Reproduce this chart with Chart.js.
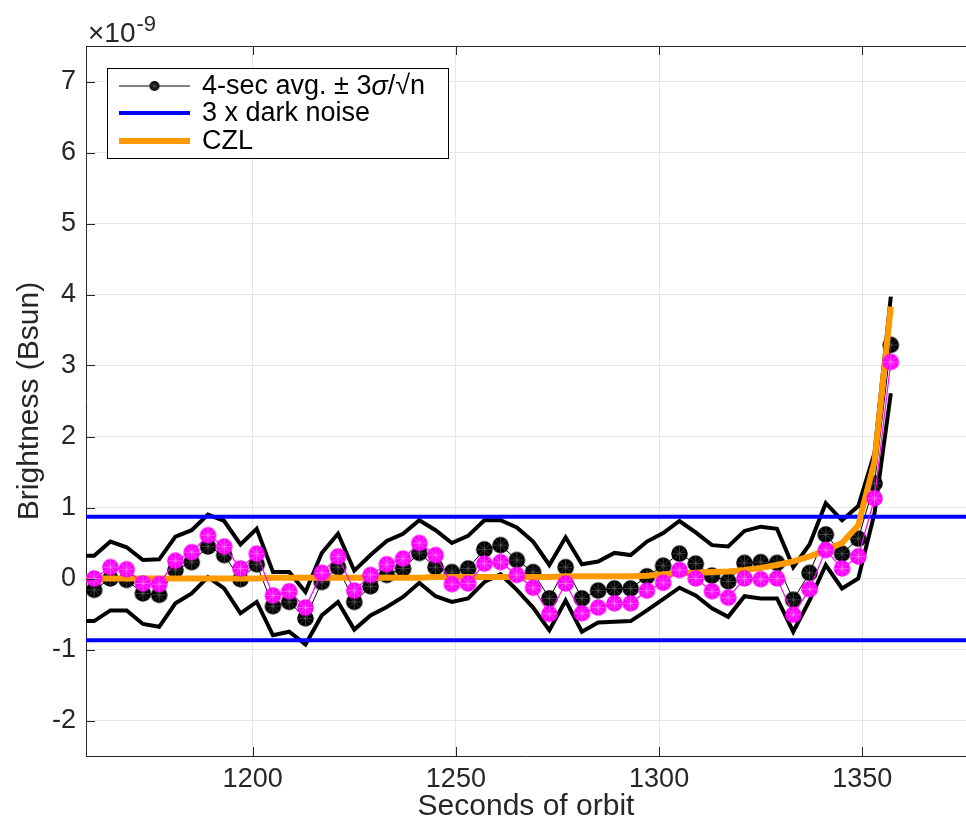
<!DOCTYPE html>
<html>
<head>
<meta charset="utf-8">
<title>Brightness vs seconds of orbit</title>
<script src="https://cdn.jsdelivr.net/npm/chart.js@4.4.1/dist/chart.umd.min.js"></script>
<style>
  html, body { margin: 0; padding: 0; background: #fff; }
  #wrap { width: 966px; height: 827px; }
</style>
</head>
<body>
<div id="wrap"><canvas id="brightness" width="966" height="827"></canvas></div>
<script>
// brightness values are in units of 1e-9 Bsun

// centre of each 4-sec bin (seconds of orbit)
const TIMES = [
  1161, 1165, 1169, 1173, 1177, 1181, 1185, 1189, 1193, 1197,
  1201, 1205, 1209, 1213, 1217, 1221, 1225, 1229, 1233, 1237,
  1241, 1245, 1249, 1253, 1257, 1261, 1265, 1269, 1273, 1277,
  1281, 1285, 1289, 1293, 1297, 1301, 1305, 1309, 1313, 1317,
  1321, 1325, 1329, 1333, 1337, 1341, 1345, 1349, 1353, 1357,
];

// 4-sec average
const AVG = [
  -0.16, 0.00, -0.02, -0.21, -0.23, 0.12, 0.23, 0.45, 0.33, -0.01,
  0.20, -0.39, -0.33, -0.56, -0.05, 0.16, -0.33, -0.11, 0.05, 0.14,
  0.36, 0.16, 0.09, 0.14, 0.41, 0.47, 0.26, 0.09, -0.28, 0.16,
  -0.28, -0.17, -0.14, -0.14, 0.03, 0.18, 0.35, 0.21, 0.04, -0.04,
  0.22, 0.23, 0.22, -0.30, 0.08, 0.62, 0.35, 0.56, 1.34, 3.29,
];

// avg + 3 sigma / sqrt(n)
const UPPER = [
  0.32, 0.52, 0.44, 0.26, 0.27, 0.59, 0.68, 0.90, 0.81, 0.48,
  0.70, 0.09, 0.09, -0.19, 0.36, 0.63, 0.11, 0.33, 0.53, 0.63,
  0.82, 0.68, 0.50, 0.60, 0.82, 0.82, 0.72, 0.52, 0.19, 0.58,
  0.20, 0.24, 0.36, 0.33, 0.52, 0.64, 0.81, 0.65, 0.47, 0.45,
  0.67, 0.73, 0.70, 0.16, 0.48, 1.06, 0.82, 1.02, 1.77, 3.97,
];

// avg - 3 sigma / sqrt(n)
const LOWER = [
  -0.60, -0.45, -0.45, -0.64, -0.68, -0.35, -0.21, 0.02, -0.14, -0.49,
  -0.33, -0.80, -0.75, -0.93, -0.52, -0.33, -0.72, -0.52, -0.40, -0.26,
  -0.06, -0.25, -0.33, -0.28, -0.05, 0.06, -0.16, -0.41, -0.73, -0.31,
  -0.75, -0.62, -0.61, -0.60, -0.45, -0.29, -0.13, -0.24, -0.42, -0.54,
  -0.25, -0.28, -0.28, -0.75, -0.31, 0.19, -0.14, 0.00, 0.92, 2.61,
];

// corrected brightness (magenta)
const CORRECTED = [
  0.00, 0.16, 0.13, -0.07, -0.08, 0.25, 0.37, 0.61, 0.45, 0.14,
  0.35, -0.24, -0.18, -0.41, 0.08, 0.31, -0.17, 0.05, 0.20, 0.28,
  0.50, 0.33, -0.08, -0.07, 0.21, 0.23, 0.05, -0.13, -0.50, -0.07,
  -0.49, -0.41, -0.35, -0.35, -0.17, -0.06, 0.12, 0.00, -0.18, -0.27,
  0.00, -0.01, 0.00, -0.51, -0.15, 0.40, 0.14, 0.31, 1.13, 3.05,
];

// CZL model
const CZL = [
  0.00, 0.00, 0.00, 0.00, 0.00, 0.00, 0.00, 0.00, 0.00, 0.00,
  0.00, 0.01, 0.01, 0.01, 0.01, 0.01, 0.01, 0.01, 0.01, 0.01,
  0.01, 0.02, 0.02, 0.02, 0.02, 0.02, 0.02, 0.02, 0.02, 0.03,
  0.03, 0.03, 0.03, 0.03, 0.04, 0.06, 0.07, 0.08, 0.09, 0.10,
  0.12, 0.15, 0.19, 0.24, 0.31, 0.40, 0.50, 0.75, 1.65, 3.83,
];

// +/- 3 x dark noise
const DARK_NOISE = [0.87, -0.87];

const X_TICKS = [1200, 1250, 1300, 1350];
const Y_TICKS = [-2, -1, 0, 1, 2, 3, 4, 5, 6, 7];
const X_MIN = 1159;
const X_MAX = 1375.5;
const Y_MIN = -2.5;
const Y_MAX = 7.5;

const TEXT = "#262626";
const GRID = "#e6e6e6";
const FONT = "'Liberation Sans', Arial, Helvetica, sans-serif";
const BLUE = "#0000ff";
const ORANGE = "#ff9900";
const MAGENTA = "#ff00ff";

function pts(ys) {
  return TIMES.map((t, i) => ({ x: t, y: ys[i] }));
}

// envelope and model curves begin at the left edge of the axes
function withLeadIn(ys) {
  return [{ x: X_MIN, y: ys[0] }].concat(pts(ys));
}

// filled circle overlaid with an asterisk, like an 'o' + '*' marker
function markerImage(fill, spoke, r) {
  const size = Math.ceil(r * 2 + 2);
  const c = document.createElement("canvas");
  c.width = size;
  c.height = size;
  const g = c.getContext("2d");
  const m = size / 2;
  g.fillStyle = fill;
  g.beginPath();
  g.arc(m, m, r, 0, Math.PI * 2);
  g.fill();
  g.strokeStyle = spoke;
  g.lineWidth = 0.7;
  for (let a = 0; a < 4; a++) {
    const th = (a * Math.PI) / 4;
    const dx = Math.cos(th) * r * 0.85;
    const dy = Math.sin(th) * r * 0.85;
    g.beginPath();
    g.moveTo(m - dx, m - dy);
    g.lineTo(m + dx, m + dy);
    g.stroke();
  }
  return c;
}

const blackDot = markerImage("#000000", "#5a5a5a", 8.3);
const pinkDot = markerImage(MAGENTA, "#ff7dff", 8.3);
const legendDot = markerImage("#000000", "#5a5a5a", 5);

// box, inward tick marks, legend and the 10^-9 multiplier
const frame = {
  id: "frame",
  afterDraw(chart) {
    const { ctx, chartArea: a, scales } = chart;
    const tick = 9;
    ctx.save();
    ctx.strokeStyle = TEXT;
    ctx.lineWidth = 1;
    ctx.beginPath();
    ctx.moveTo(a.left, a.top + 0.5);
    ctx.lineTo(a.right, a.top + 0.5);
    X_TICKS.forEach((v) => {
      const px = Math.round(scales.x.getPixelForValue(v)) + 0.5;
      ctx.moveTo(px, a.bottom);
      ctx.lineTo(px, a.bottom - tick);
      ctx.moveTo(px, a.top);
      ctx.lineTo(px, a.top + tick);
    });
    Y_TICKS.forEach((v) => {
      const py = Math.round(scales.y.getPixelForValue(v)) + 0.5;
      ctx.moveTo(a.left, py);
      ctx.lineTo(a.left + tick, py);
    });
    ctx.stroke();

    // legend
    const box = { x: 107, y: 68, w: 341, h: 90 };
    ctx.fillStyle = "#ffffff";
    ctx.fillRect(box.x, box.y, box.w, box.h);
    ctx.strokeStyle = "#000000";
    ctx.strokeRect(box.x + 0.5, box.y + 0.5, box.w, box.h);

    const x0 = 119, x1 = 190, tx = 202;
    const rows = [86, 113, 141];

    ctx.lineWidth = 1;
    ctx.strokeStyle = "#000000";
    ctx.beginPath();
    ctx.moveTo(x0, rows[0]);
    ctx.lineTo(x1, rows[0]);
    ctx.stroke();
    ctx.drawImage(legendDot, (x0 + x1) / 2 - legendDot.width / 2, rows[0] - legendDot.height / 2);

    ctx.lineWidth = 4;
    ctx.strokeStyle = BLUE;
    ctx.beginPath();
    ctx.moveTo(x0, rows[1]);
    ctx.lineTo(x1, rows[1]);
    ctx.stroke();

    ctx.lineWidth = 6;
    ctx.strokeStyle = ORANGE;
    ctx.beginPath();
    ctx.moveTo(x0, rows[2]);
    ctx.lineTo(x1, rows[2]);
    ctx.stroke();

    ctx.fillStyle = "#000000";
    ctx.textBaseline = "middle";
    ctx.textAlign = "left";
    const size = 27;
    let x = tx;
    [["4-sec avg. \u00b1 3", ""], ["\u03c3", "italic "], ["/\u221an", ""]].forEach(([s, style]) => {
      ctx.font = `${style}${size}px ${FONT}`;
      ctx.fillText(s, x, rows[0] + 1);
      x += ctx.measureText(s).width;
    });
    ctx.font = `${size}px ${FONT}`;
    ctx.fillText("3 x dark noise", tx, rows[1] + 1);
    ctx.fillText("CZL", tx, rows[2] + 1);

    // axis multiplier
    ctx.fillStyle = TEXT;
    ctx.textBaseline = "alphabetic";
    ctx.font = `28px ${FONT}`;
    ctx.fillText("\u00d710", 88, 42);
    const w = ctx.measureText("\u00d710").width;
    ctx.font = `22px ${FONT}`;
    ctx.fillText("-9", 88 + w + 1, 31);
    ctx.restore();
  },
};

new Chart(document.getElementById("brightness"), {
  type: "line",
  data: {
    datasets: [
      {
        label: "corrected",
        data: pts(CORRECTED),
        borderColor: MAGENTA,
        borderWidth: 1.2,
        pointStyle: pinkDot,
        order: 0,
      },
      {
        label: "CZL",
        data: withLeadIn(CZL),
        borderColor: ORANGE,
        borderWidth: 6,
        pointRadius: 0,
        order: 1,
      },
      {
        label: "3 x dark noise",
        data: [{ x: X_MIN, y: DARK_NOISE[0] }, { x: X_MAX, y: DARK_NOISE[0] }],
        borderColor: BLUE,
        borderWidth: 4,
        pointRadius: 0,
        order: 2,
      },
      {
        label: "-3 x dark noise",
        data: [{ x: X_MIN, y: DARK_NOISE[1] }, { x: X_MAX, y: DARK_NOISE[1] }],
        borderColor: BLUE,
        borderWidth: 4,
        pointRadius: 0,
        order: 2,
      },
      {
        label: "4-sec avg.",
        data: pts(AVG),
        borderColor: "#000000",
        borderWidth: 1,
        pointStyle: blackDot,
        order: 3,
      },
      {
        label: "upper",
        data: withLeadIn(UPPER),
        borderColor: "#000000",
        borderWidth: 4,
        pointRadius: 0,
        order: 4,
      },
      {
        label: "lower",
        data: withLeadIn(LOWER),
        borderColor: "#000000",
        borderWidth: 4,
        pointRadius: 0,
        order: 4,
      },
    ],
  },
  options: {
    responsive: false,
    devicePixelRatio: 1,
    animation: false,
    layout: { autoPadding: false, padding: { top: 46, right: 0, bottom: 0, left: 0 } },
    elements: { line: { tension: 0, borderJoinStyle: "miter" } },
    plugins: { legend: { display: false }, tooltip: { enabled: false } },
    scales: {
      x: {
        type: "linear",
        min: X_MIN,
        max: X_MAX,
        afterBuildTicks: (s) => { s.ticks = X_TICKS.map((v) => ({ value: v })); },
        afterFit: (s) => {
          s.height = 71;
          s.paddingLeft = 0;
          s.paddingRight = 0;
        },
        grid: { color: GRID, drawTicks: false },
        border: { color: TEXT, width: 1 },
        ticks: {
          color: TEXT,
          font: { family: FONT, size: 27 },
          padding: 7,
          maxRotation: 0,
          callback: (v) => String(v),
        },
        title: {
          display: true,
          text: "Seconds of orbit",
          color: TEXT,
          font: { family: FONT, size: 30 },
          padding: { top: 0, bottom: 2 },
        },
      },
      y: {
        min: Y_MIN,
        max: Y_MAX,
        afterBuildTicks: (s) => { s.ticks = Y_TICKS.map((v) => ({ value: v })); },
        afterFit: (s) => {
          s.width = 86;
          s.paddingTop = 0;
          s.paddingBottom = 0;
        },
        grid: { color: GRID, drawTicks: false },
        border: { color: TEXT, width: 1 },
        ticks: {
          color: TEXT,
          font: { family: FONT, size: 27 },
          padding: 10,
          callback: (v) => String(v),
        },
        title: {
          display: true,
          text: "Brightness (Bsun)",
          color: TEXT,
          font: { family: FONT, size: 30 },
          padding: { top: 12, bottom: 0 },
        },
      },
    },
  },
  plugins: [frame],
});
</script>
</body>
</html>
